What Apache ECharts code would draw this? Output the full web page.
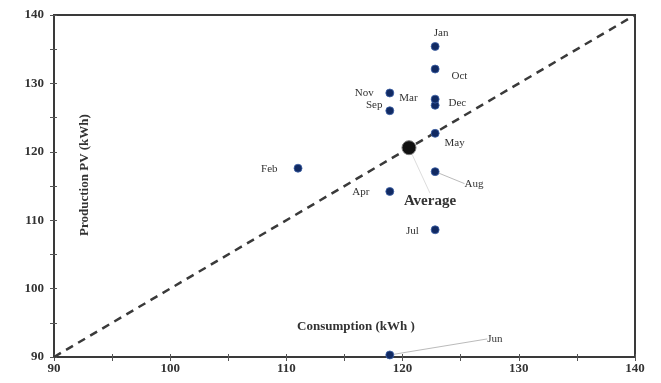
<!DOCTYPE html>
<html>
<head>
<meta charset="utf-8">
<script src="https://cdn.jsdelivr.net/npm/echarts@6/dist/echarts.min.js"></script>
<style>
  html, body { margin: 0; padding: 0; background: #fff; }
  #chart { width: 661px; height: 383px; }
</style>
</head>
<body>
<div id="chart"></div>
<script>
// Monthly consumption vs PV production (kWh)
const months = ['Jan', 'Feb', 'Mar', 'Apr', 'May', 'Jun', 'Jul', 'Aug', 'Sep', 'Oct', 'Nov', 'Dec'];
const consumption = [122.8, 111.0, 118.9, 118.9, 122.8, 118.9, 122.8, 122.8, 118.9, 122.8, 122.8, 122.8];
const production  = [135.4, 117.6, 128.6, 114.2, 122.7, 90.3, 108.6, 117.1, 126.0, 132.1, 126.8, 127.7];
const averagePoint = [120.55, 120.6];
const averageLabel = 'Average';
const axisMin = 90;
const axisMax = 140;
const xTitle = 'Consumption (kWh )';
const yTitle = 'Production PV (kWh)';

const serif = '"Liberation Serif", "Times New Roman", serif';

// label placement for each month: [position, dx, dy, leader]
const labelPlace = {
  Jan: ['top', 6, 2, false],
  Feb: ['left', -11, 1, false],
  Mar: ['right', 0, 5, false],
  Apr: ['left', -11, 1, false],
  May: ['right', 0, 10, false],
  Jun: ['right', 88, -16, true],
  Jul: ['left', -7, 1, false],
  Aug: ['right', 20, 12, true],
  Sep: ['left', 2, -6, false],
  Oct: ['right', 7, 7, false],
  Nov: ['left', -52, -12, false],
  Dec: ['right', 4, 4, false]
};

const monthData = months.map((m, i) => ({
  name: m,
  value: [consumption[i], production[i]],
  label: { position: labelPlace[m][0] },
  labelLine: { show: labelPlace[m][3] }
}));

const chart = echarts.init(document.getElementById('chart'), null, { renderer: 'canvas' });

const axisCommon = {
  type: 'value',
  min: axisMin,
  max: axisMax,
  interval: 5,
  splitLine: { show: false },
  axisLine: { show: true, lineStyle: { color: '#3a3a3a', width: 2 } },
  axisTick: { show: true, length: 4, lineStyle: { color: '#555', width: 1 } },
  axisLabel: {
    fontFamily: serif,
    fontWeight: 'bold',
    fontSize: 13,
    color: '#333',
    formatter: v => (v % 10 === 0 ? String(v) : '')
  }
};

chart.setOption({
  animation: false,
  backgroundColor: '#fff',
  grid: {
    left: 54, right: 26, top: 15, bottom: 26,
    show: true, borderColor: '#3a3a3a', borderWidth: 2, backgroundColor: 'transparent'
  },
  xAxis: [
    Object.assign({}, axisCommon, { axisLabel: Object.assign({}, axisCommon.axisLabel, { margin: 5 }) }),
    Object.assign({}, axisCommon, {
      position: 'bottom',
      axisTick: { show: true, inside: true, length: 3, lineStyle: { color: '#555', width: 1 } },
      axisLabel: { show: false }
    })
  ],
  yAxis: [
    Object.assign({}, axisCommon, { axisLabel: Object.assign({}, axisCommon.axisLabel, { margin: 10 }) }),
    Object.assign({}, axisCommon, {
      position: 'left',
      axisTick: { show: true, inside: true, length: 3, lineStyle: { color: '#555', width: 1 } },
      axisLabel: { show: false }
    })
  ],
  graphic: [
    {
      type: 'text', x: 85, y: 175, rotation: Math.PI / 2,
      style: {
        text: yTitle, fontFamily: serif, fontWeight: 'bold', fontSize: 13,
        fill: '#333', align: 'center', verticalAlign: 'middle'
      }
    },
    {
      type: 'text', x: 356, y: 327,
      style: {
        text: xTitle, fontFamily: serif, fontWeight: 'bold', fontSize: 13,
        fill: '#333', align: 'center', verticalAlign: 'middle'
      }
    }
  ],
  series: [
    {
      // 1:1 reference line
      type: 'line',
      data: [[axisMin, axisMin], [axisMax, axisMax]],
      symbol: 'none',
      silent: true,
      lineStyle: { color: '#3a3a3a', width: 2.5, type: [8, 6] },
      z: 1
    },
    {
      type: 'scatter',
      data: monthData,
      symbolSize: 8,
      itemStyle: { color: '#112a63', opacity: 1, borderColor: '#3d62a8', borderWidth: 0.8 },
      label: {
        show: true,
        formatter: p => p.name,
        fontFamily: serif,
        fontSize: 11,
        color: '#333',
        distance: 5
      },
      labelLine: { show: false, lineStyle: { color: '#bbb', width: 1 } },
      labelLayout: params => {
        const p = labelPlace[months[params.dataIndex]];
        return { dx: p[1], dy: p[2] };
      },
      z: 3
    },
    {
      type: 'scatter',
      data: [{ name: averageLabel, value: averagePoint }],
      symbolSize: 14,
      itemStyle: { color: '#111', opacity: 1, borderColor: '#777', borderWidth: 1 },
      label: {
        show: true,
        position: 'bottom',
        formatter: p => p.name,
        fontFamily: serif,
        fontWeight: 'bold',
        fontSize: 15,
        color: '#333',
        distance: 5
      },
      labelLine: { show: true, lineStyle: { color: '#ddd', width: 1 } },
      labelLayout: { dx: 21, dy: 33 },
      z: 4
    }
  ]
});
</script>
</body>
</html>
